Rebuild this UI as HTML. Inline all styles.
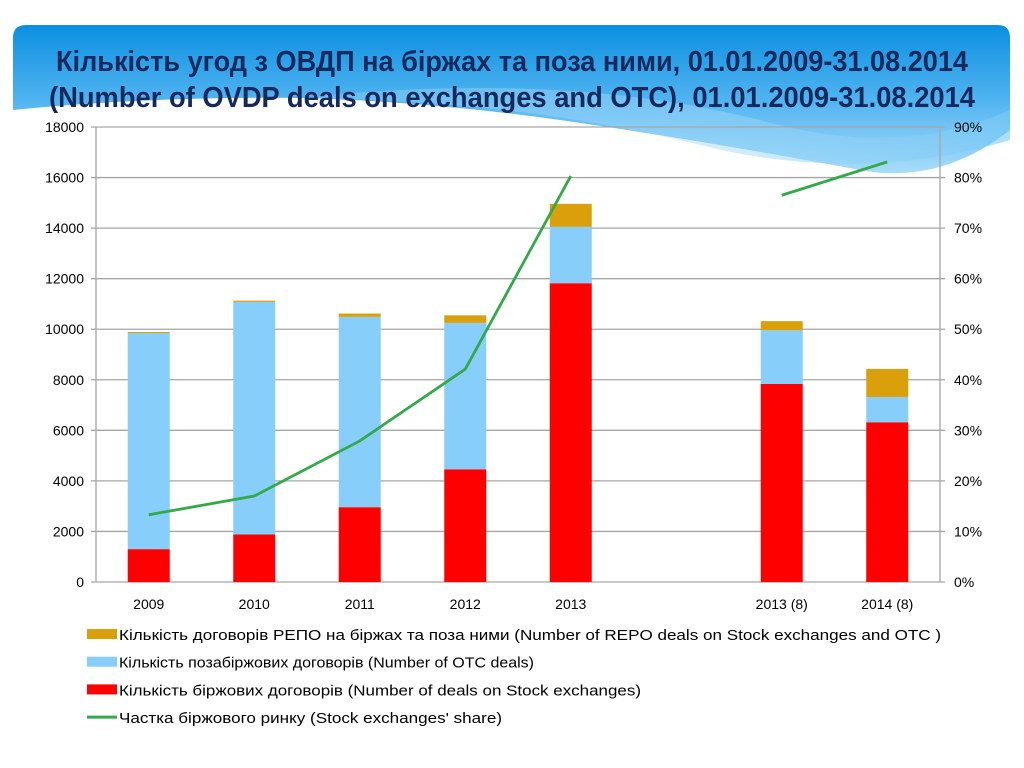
<!DOCTYPE html>
<html><head><meta charset="utf-8"><style>
html,body{margin:0;padding:0;background:#fff;}
svg{display:block;font-family:"Liberation Sans",sans-serif;}
</style></head><body>
<svg id="c" width="1024" height="768" viewBox="0 0 1024 768">
<defs>
<linearGradient id="bg" x1="0" y1="0" x2="0" y2="1">
<stop offset="0" stop-color="#0b8fe0"/><stop offset="0.5" stop-color="#4fb3f0"/><stop offset="1" stop-color="#a9dcfa"/>
</linearGradient>
<linearGradient id="wave" x1="0" y1="0" x2="1" y2="0">
<stop offset="0" stop-color="#cfeafc" stop-opacity="0.3"/><stop offset="1" stop-color="#7ccaf6" stop-opacity="0.9"/>
</linearGradient>
</defs>
<g>
<path d="M13 38 Q13 25 26 25 L998 25 Q1010 25 1010 38 L1010 130 Q940 185 860 170 Q700 140 560 120 Q380 95 230 98 Q110 100 13 110 Z" fill="url(#bg)"/>
<path d="M300 98 Q520 100 700 145 Q860 185 1010 140 L1010 110 Q900 160 760 120 Q560 70 300 98 Z" fill="url(#wave)" opacity="0.7"/>
</g>
<text x="512" y="71" text-anchor="middle" font-size="29" font-weight="bold" fill="#17295c" textLength="912" lengthAdjust="spacingAndGlyphs">Кількість угод з ОВДП на біржах та поза ними, 01.01.2009-31.08.2014</text>
<text x="512" y="107" text-anchor="middle" font-size="29" font-weight="bold" fill="#17295c" textLength="926" lengthAdjust="spacingAndGlyphs">(Number of OVDP deals on exchanges and OTC), 01.01.2009-31.08.2014</text>
<g id="grid"></g><g id="bars"></g><g id="line"></g><g id="axes"></g><g id="legend"></g>
</svg>
<script>
const categories=["2009","2010","2011","2012","2013","","2013 (8)","2014 (8)"];
const exchangeDeals=[1300,1880,2960,4460,11820,null,7840,6320];
const otcDeals=[8550,9200,7530,5790,2230,null,2120,1000];
const repoDeals=[40,50,130,300,910,null,360,1110];
const sharePct=[13.3,17.0,27.9,42.1,80.3,null,76.5,83.1];
const leftTicks=[0,2000,4000,6000,8000,10000,12000,14000,16000,18000];
const rightTicks=["0%","10%","20%","30%","40%","50%","60%","70%","80%","90%"];
const NS="http://www.w3.org/2000/svg";
const X0=96,X1=940,Y0=582,Y1=127;
const slot=(X1-X0)/categories.length;
const xc=i=>X0+slot*(i+0.5);
const yL=v=>Y0-(v/18000)*(Y0-Y1);
const yR=p=>Y0-(p/90)*(Y0-Y1);
function mk(t,a,p){const e=document.createElementNS(NS,t);for(const k in a)e.setAttribute(k,a[k]);p.appendChild(e);return e;}
const grid=document.getElementById('grid'),bars=document.getElementById('bars'),line=document.getElementById('line'),axes=document.getElementById('axes'),legend=document.getElementById('legend');
leftTicks.forEach((v,i)=>{
 const g=mk('line',{x1:X0-5,x2:X1+5,y1:yL(v),y2:yL(v),stroke:'#a6a6a6','stroke-width':1.3},grid);
 
 
 const t=mk('text',{x:X0-12,y:yL(v)+5,'text-anchor':'end','font-size':14,fill:'#000'},axes);t.textContent=v;
 
 
 const r=mk('text',{x:X1+14,y:yL(v)+5,'font-size':14,fill:'#000'},axes);r.textContent=rightTicks[i];
 
 
});
const la=mk('line',{x1:X0,x2:X0,y1:Y1,y2:Y0,stroke:'#a6a6a6','stroke-width':1.3},axes);


const ra=mk('line',{x1:X1,x2:X1,y1:Y1,y2:Y0,stroke:'#a6a6a6','stroke-width':1.3},axes);


const BW=42;
categories.forEach((c,i)=>{
 const t=mk('text',{x:xc(i),y:609,'text-anchor':'middle','font-size':14,fill:'#000'},axes);t.textContent=c;
 
 
 if(exchangeDeals[i]==null)return;
 let base=0;
 [[exchangeDeals[i],'#ff0000','bar-exchange'],[otcDeals[i],'#87cefa','bar-otc'],[repoDeals[i],'#d9a00b','bar-repo']].forEach(([v,col,nm])=>{
  const r=mk('rect',{x:xc(i)-BW/2,y:yL(base+v),width:BW,height:yL(base)-yL(base+v),fill:col},bars);
  
  
  base+=v;
 });
});
let d='',pen=false;
sharePct.forEach((p,i)=>{if(p==null){pen=false;return;}d+=(pen?'L':'M')+xc(i)+' '+yR(p)+' ';pen=true;});
const pl=mk('path',{d:d,fill:'none',stroke:'#33a94a','stroke-width':2.8},line);


const items=[['rect','#d9a00b','Кількість договорів РЕПО на біржах та поза ними (Number of REPO deals on Stock exchanges and OTC )',822],
['rect','#87cefa','Кількість позабіржових договорів (Number of OTC deals)',415],
['rect','#ff0000','Кількість біржових договорів (Number of deals on Stock exchanges)',522],
['line','#33a94a','Частка біржового ринку (Stock exchanges\' share)',383]];
items.forEach((it,i)=>{
 const y=634+i*27.7;
 const g=mk('g',{},legend);
 
 
 if(it[0]=='rect')mk('rect',{x:87,y:y-5,width:30,height:10,fill:it[1]},g);
 else mk('line',{x1:87,x2:117,y1:y,y2:y,stroke:it[1],'stroke-width':3},g);
 const t=mk('text',{x:119,y:y+6,'font-size':15,fill:'#000',textLength:it[3],lengthAdjust:'spacingAndGlyphs'},g);t.textContent=it[2];
});
</script>
</body></html>
